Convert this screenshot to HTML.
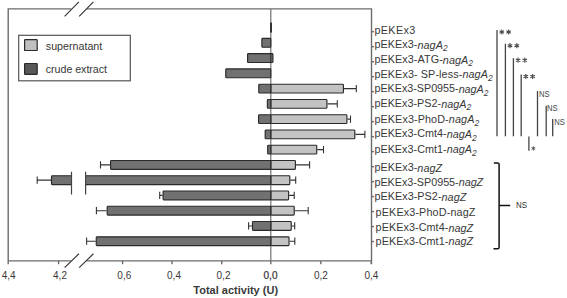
<!DOCTYPE html>
<html><head><meta charset="utf-8"><style>
html,body{margin:0;padding:0;background:#fff;}
body{width:567px;height:298px;position:relative;overflow:hidden;font-family:"Liberation Sans",sans-serif;}
</style></head><body>
<svg width="567" height="298" viewBox="0 0 567 298" style="position:absolute;left:0;top:0">
<g stroke="#6c6c6c" stroke-width="1.4" fill="none">
<path d="M8.2 261 V8.9 H71.2 M86.5 8.9 H371.5 V264"/>
<path d="M8.2 260.9 H70.8 M86.4 260.9 H371.5"/>
<path d="M8.2 260.9 V264.2"/>
<path d="M58.6 260.9 V264.2"/>
<path d="M122.6 260.9 V264.2"/>
<path d="M172.0 260.9 V264.2"/>
<path d="M221.7 260.9 V264.2"/>
<path d="M270.8 260.9 V264.2"/>
<path d="M320.8 260.9 V264.2"/>
<path d="M371.3 260.9 V264.2"/>
<path d="M371.5 31.70 H374"/>
<path d="M371.5 46.69 H374"/>
<path d="M371.5 61.68 H374"/>
<path d="M371.5 76.67 H374"/>
<path d="M371.5 91.66 H374"/>
<path d="M371.5 106.65 H374"/>
<path d="M371.5 121.64 H374"/>
<path d="M371.5 136.63 H374"/>
<path d="M371.5 151.62 H374"/>
<path d="M371.5 166.61 H374"/>
<path d="M371.5 181.60 H374"/>
<path d="M371.5 196.59 H374"/>
<path d="M371.5 211.58 H374"/>
<path d="M371.5 226.57 H374"/>
<path d="M371.5 241.56 H374"/>
</g>
<g stroke="#3a3a3a" stroke-width="1.2" fill="none">
<path d="M64.6 16.4 L78.9 1.9 M79.2 16.4 L93.4 1.9"/>
<path d="M64.6 267.6 L78.9 253.8 M79.2 267.6 L93.4 253.8"/>
</g>
<path d="M270.8 9 V260.9" stroke="#727272" stroke-width="1.2"/>
<rect x="270.0" y="22.59" width="2" height="9.950000000000001" fill="#333"/>
<rect x="261.875" y="38.42" width="8.93" height="8.8" rx="0.8" fill="#717171" stroke="#2a2a2a" stroke-width="1.15"/>
<rect x="247.575" y="53.68" width="25.35" height="8.8" rx="0.8" fill="#717171" stroke="#2a2a2a" stroke-width="1.15"/>
<rect x="225.77499999999998" y="68.94" width="45.03" height="8.8" rx="0.8" fill="#717171" stroke="#2a2a2a" stroke-width="1.15"/>
<path d="M344.0 88.60 H356.3 M356.3 85.00 V92.20" stroke="#333" stroke-width="1.1" fill="none"/>
<rect x="270.8" y="84.20" width="72.62" height="8.8" rx="0.8" fill="#c3c3c3" stroke="#2a2a2a" stroke-width="1.15"/>
<rect x="258.775" y="84.20" width="12.03" height="8.8" rx="0.8" fill="#717171" stroke="#2a2a2a" stroke-width="1.15"/>
<path d="M327.5 103.86 H337.3 M337.3 100.26 V107.46" stroke="#333" stroke-width="1.1" fill="none"/>
<rect x="270.8" y="99.46" width="56.12" height="8.8" rx="0.8" fill="#c3c3c3" stroke="#2a2a2a" stroke-width="1.15"/>
<rect x="267.375" y="99.46" width="3.42" height="8.8" rx="0.8" fill="#717171" stroke="#2a2a2a" stroke-width="1.15"/>
<path d="M347.5 119.12 H350.5 M350.5 115.52 V122.72" stroke="#333" stroke-width="1.1" fill="none"/>
<rect x="270.8" y="114.72" width="76.12" height="8.8" rx="0.8" fill="#c3c3c3" stroke="#2a2a2a" stroke-width="1.15"/>
<rect x="258.575" y="114.72" width="12.23" height="8.8" rx="0.8" fill="#717171" stroke="#2a2a2a" stroke-width="1.15"/>
<path d="M355.4 134.38 H364.9 M364.9 130.78 V137.98" stroke="#333" stroke-width="1.1" fill="none"/>
<rect x="270.8" y="129.98" width="84.02" height="8.8" rx="0.8" fill="#c3c3c3" stroke="#2a2a2a" stroke-width="1.15"/>
<rect x="265.175" y="129.98" width="5.62" height="8.8" rx="0.8" fill="#717171" stroke="#2a2a2a" stroke-width="1.15"/>
<path d="M317.3 149.64 H323.5 M323.5 146.04 V153.24" stroke="#333" stroke-width="1.1" fill="none"/>
<rect x="270.8" y="145.24" width="45.93" height="8.8" rx="0.8" fill="#c3c3c3" stroke="#2a2a2a" stroke-width="1.15"/>
<rect x="267.675" y="145.24" width="3.12" height="8.8" rx="0.8" fill="#717171" stroke="#2a2a2a" stroke-width="1.15"/>
<path d="M110.0 164.90 H100.5 M100.5 161.30 V168.50" stroke="#333" stroke-width="1.1" fill="none"/>
<path d="M296.0 164.90 H309.6 M309.6 161.30 V168.50" stroke="#333" stroke-width="1.1" fill="none"/>
<rect x="270.8" y="160.50" width="24.62" height="8.8" rx="0.8" fill="#c3c3c3" stroke="#2a2a2a" stroke-width="1.15"/>
<rect x="110.575" y="160.50" width="160.23" height="8.8" rx="0.8" fill="#717171" stroke="#2a2a2a" stroke-width="1.15"/>
<path d="M51.0 180.16 H37.2 M37.2 176.56 V183.76" stroke="#333" stroke-width="1.1" fill="none"/>
<path d="M290.4 180.16 H295.7 M295.7 176.56 V183.76" stroke="#333" stroke-width="1.1" fill="none"/>
<rect x="270.8" y="175.76" width="19.02" height="8.8" rx="0.8" fill="#c3c3c3" stroke="#2a2a2a" stroke-width="1.15"/>
<rect x="51.5" y="175.76" width="219.30" height="8.8" rx="0.8" fill="#717171" stroke="#2a2a2a" stroke-width="1.15"/>
<rect x="71.9" y="169.19" width="13.2" height="21.950000000000003" fill="#fff"/>
<path d="M71.5 171.8 V194.6 M85.6 171.8 V194.6" stroke="#444" stroke-width="1.2"/>
<path d="M162.5 195.42 H159.7 M159.7 191.82 V199.02" stroke="#333" stroke-width="1.1" fill="none"/>
<path d="M289.2 195.42 H294.2 M294.2 191.82 V199.02" stroke="#333" stroke-width="1.1" fill="none"/>
<rect x="270.8" y="191.02" width="17.82" height="8.8" rx="0.8" fill="#c3c3c3" stroke="#2a2a2a" stroke-width="1.15"/>
<rect x="163.075" y="191.02" width="107.73" height="8.8" rx="0.8" fill="#717171" stroke="#2a2a2a" stroke-width="1.15"/>
<path d="M106.6 210.68 H96.4 M96.4 207.08 V214.28" stroke="#333" stroke-width="1.1" fill="none"/>
<path d="M294.8 210.68 H308.2 M308.2 207.08 V214.28" stroke="#333" stroke-width="1.1" fill="none"/>
<rect x="270.8" y="206.28" width="23.43" height="8.8" rx="0.8" fill="#c3c3c3" stroke="#2a2a2a" stroke-width="1.15"/>
<rect x="107.175" y="206.28" width="163.63" height="8.8" rx="0.8" fill="#717171" stroke="#2a2a2a" stroke-width="1.15"/>
<path d="M251.9 225.94 H248.6 M248.6 222.34 V229.54" stroke="#333" stroke-width="1.1" fill="none"/>
<path d="M291.8 225.94 H294.7 M294.7 222.34 V229.54" stroke="#333" stroke-width="1.1" fill="none"/>
<rect x="270.8" y="221.54" width="20.43" height="8.8" rx="0.8" fill="#c3c3c3" stroke="#2a2a2a" stroke-width="1.15"/>
<rect x="252.475" y="221.54" width="18.33" height="8.8" rx="0.8" fill="#717171" stroke="#2a2a2a" stroke-width="1.15"/>
<path d="M95.7 241.20 H86.6 M86.6 237.60 V244.80" stroke="#333" stroke-width="1.1" fill="none"/>
<path d="M289.6 241.20 H294.8 M294.8 237.60 V244.80" stroke="#333" stroke-width="1.1" fill="none"/>
<rect x="270.8" y="236.80" width="18.23" height="8.8" rx="0.8" fill="#c3c3c3" stroke="#2a2a2a" stroke-width="1.15"/>
<rect x="96.275" y="236.80" width="174.53" height="8.8" rx="0.8" fill="#717171" stroke="#2a2a2a" stroke-width="1.15"/>
<path d="M270.8 53.11 v9.950000000000001" stroke="#2a2a2a" stroke-width="1"/>
<rect x="18.7" y="35.3" width="111.6" height="45.5" fill="#fff" stroke="#555" stroke-width="1.2"/>
<rect x="24.6" y="39.7" width="12.6" height="10.8" rx="0.6" fill="#c0c0c0" stroke="#2a2a2a" stroke-width="1.2"/>
<rect x="24.6" y="63.5" width="12.6" height="10.8" rx="0.6" fill="#585858" stroke="#2a2a2a" stroke-width="1.2"/>
<g font-family="Liberation Sans" fill="#383838">
<text x="45.8" y="50.2" font-size="10.7">supernatant</text>
<text x="45.8" y="73.2" font-size="10.7" textLength="61.2" lengthAdjust="spacing">crude extract</text>
<text x="8.6" y="278.6" font-size="10" text-anchor="middle">4,4</text>
<text x="60" y="278.6" font-size="10" text-anchor="middle">4,2</text>
<text x="124.3" y="278.6" font-size="10" text-anchor="middle">0,6</text>
<text x="174" y="278.6" font-size="10" text-anchor="middle">0,4</text>
<text x="223.5" y="278.6" font-size="10" text-anchor="middle">0,2</text>
<text x="320.9" y="278.6" font-size="10" text-anchor="middle">0,2</text>
<text x="371.4" y="278.6" font-size="10" text-anchor="middle">0,4</text>
<text x="270.5" y="278.6" font-size="10" text-anchor="middle" stroke="#222" stroke-width="0.2">0,0</text>
<text x="193.3" y="293.7" font-size="11" font-weight="bold" fill="#3a3a3a">Total activity (U)</text>
<text class="rl" x="374.4" y="34.20" font-size="10.8" textLength="40.92" lengthAdjust="spacing"><tspan>pEKEx3</tspan></text>
<text class="rl" x="374.4" y="47.90" font-size="10.8" textLength="73.20" lengthAdjust="spacing"><tspan>pEKEx3-</tspan><tspan font-style="italic" dy="0.6">nagA</tspan><tspan font-style="italic" font-size="8.4" dy="2.8">2</tspan></text>
<text class="rl" x="374.4" y="62.90" font-size="10.8" textLength="98.60" lengthAdjust="spacing"><tspan>pEKEx3-ATG-</tspan><tspan font-style="italic" dy="0.6">nagA</tspan><tspan font-style="italic" font-size="8.4" dy="2.8">2</tspan></text>
<text class="rl" x="374.4" y="77.70" font-size="10.8" textLength="118.30" lengthAdjust="spacing"><tspan>pEKEx3- SP-less-</tspan><tspan font-style="italic" dy="0.6">nagA</tspan><tspan font-style="italic" font-size="8.4" dy="2.8">2</tspan></text>
<text class="rl" x="374.4" y="92.20" font-size="10.8" textLength="114.02" lengthAdjust="spacing"><tspan>pEKEx3-SP0955-</tspan><tspan font-style="italic" dy="0.6">nagA</tspan><tspan font-style="italic" font-size="8.4" dy="2.8">2</tspan></text>
<text class="rl" x="374.4" y="107.00" font-size="10.8" textLength="96.72" lengthAdjust="spacing"><tspan>pEKEx3-PS2-</tspan><tspan font-style="italic" dy="0.6">nagA</tspan><tspan font-style="italic" font-size="8.4" dy="2.8">2</tspan></text>
<text class="rl" x="374.4" y="122.50" font-size="10.8" textLength="104.71" lengthAdjust="spacing"><tspan>pEKEx3-PhoD-</tspan><tspan font-style="italic" dy="0.6">nagA</tspan><tspan font-style="italic" font-size="8.4" dy="2.8">2</tspan></text>
<text class="rl" x="374.4" y="137.30" font-size="10.8" textLength="102.29" lengthAdjust="spacing"><tspan>pEKEx3-Cmt4-</tspan><tspan font-style="italic" dy="0.6">nagA</tspan><tspan font-style="italic" font-size="8.4" dy="2.8">2</tspan></text>
<text class="rl" x="374.4" y="152.50" font-size="10.8" textLength="102.29" lengthAdjust="spacing"><tspan>pEKEx3-Cmt1-</tspan><tspan font-style="italic" dy="0.6">nagA</tspan><tspan font-style="italic" font-size="8.4" dy="2.8">2</tspan></text>
<text class="rl" x="374.4" y="171.10" font-size="10.8" textLength="67.72" lengthAdjust="spacing"><tspan>pEKEx3-</tspan><tspan font-style="italic" dy="0.6">nagZ</tspan></text>
<text class="rl" x="374.4" y="185.70" font-size="10.8" textLength="108.83" lengthAdjust="spacing"><tspan>pEKEx3-SP0955-</tspan><tspan font-style="italic" dy="0.6">nagZ</tspan></text>
<text class="rl" x="374.4" y="200.00" font-size="10.8" textLength="91.93" lengthAdjust="spacing"><tspan>pEKEx3-PS2-</tspan><tspan font-style="italic" dy="0.6">nagZ</tspan></text>
<text class="rl" x="375.6" y="215.80" font-size="10.8" textLength="99.83" lengthAdjust="spacing"><tspan>pEKEx3-PhoD-nagZ</tspan></text>
<text class="rl" x="375.6" y="230.90" font-size="10.8" textLength="97.61" lengthAdjust="spacing"><tspan>pEKEx3-Cmt4-</tspan><tspan font-style="italic" dy="0.6">nagZ</tspan></text>
<text class="rl" x="375.6" y="244.50" font-size="10.8" textLength="97.61" lengthAdjust="spacing"><tspan>pEKEx3-Cmt1-</tspan><tspan font-style="italic" dy="0.6">nagZ</tspan></text>
</g>
<g stroke="#444" stroke-width="1.3" fill="none">
<path d="M497 30.0 V136.3"/>
<path d="M505.4 43.7 V136.3"/>
<path d="M513.4 58.2 V136.3"/>
<path d="M521.2 74.5 V136.3"/>
<path d="M537.5 91.0 V136.3"/>
<path d="M546.2 105.8 V136.3"/>
<path d="M552.7 119.0 V136.3"/>
<path d="M528.9 136.6 V150.8"/>
</g>
<g font-family="Liberation Sans" fill="#444">
<text x="539.0" y="97.0" font-size="8.6" textLength="10.6" lengthAdjust="spacingAndGlyphs">NS</text>
<text x="547.0" y="111.4" font-size="8.6" textLength="10.6" lengthAdjust="spacingAndGlyphs">NS</text>
<text x="554.2" y="124.8" font-size="8.6" textLength="10.6" lengthAdjust="spacingAndGlyphs">NS</text>
<text x="516" y="208.0" font-size="9" fill="#2a2a2a" textLength="11" lengthAdjust="spacingAndGlyphs">NS</text>
</g>
<path d="M501.80 29.40 L501.80 34.60 M499.55 30.70 L504.05 33.30 M499.55 33.30 L504.05 30.70 M508.60 29.40 L508.60 34.60 M506.35 30.70 L510.85 33.30 M506.35 33.30 L510.85 30.70 M510.00 43.10 L510.00 48.30 M507.75 44.40 L512.25 47.00 M507.75 47.00 L512.25 44.40 M516.80 43.10 L516.80 48.30 M514.55 44.40 L519.05 47.00 M514.55 47.00 L519.05 44.40 M518.00 57.60 L518.00 62.80 M515.75 58.90 L520.25 61.50 M515.75 61.50 L520.25 58.90 M524.80 57.60 L524.80 62.80 M522.55 58.90 L527.05 61.50 M522.55 61.50 L527.05 58.90 M525.80 73.90 L525.80 79.10 M523.55 75.20 L528.05 77.80 M523.55 77.80 L528.05 75.20 M532.60 73.90 L532.60 79.10 M530.35 75.20 L534.85 77.80 M530.35 77.80 L534.85 75.20 " stroke="#4a4a4a" stroke-width="1.1" fill="none"/>
<path d="M533.40 146.30 L533.40 150.50 M531.58 147.35 L535.22 149.45 M531.58 149.45 L535.22 147.35 " stroke="#555" stroke-width="1.0" fill="none"/>
<path d="M493.8 163 H497.6 Q499.1 163 499.1 164.5 V247.3 Q499.1 248.8 497.6 248.8 H493.5 M499.1 205.6 H510.2" stroke="#111" stroke-width="1.5" fill="none"/>
</svg>
</body></html>
